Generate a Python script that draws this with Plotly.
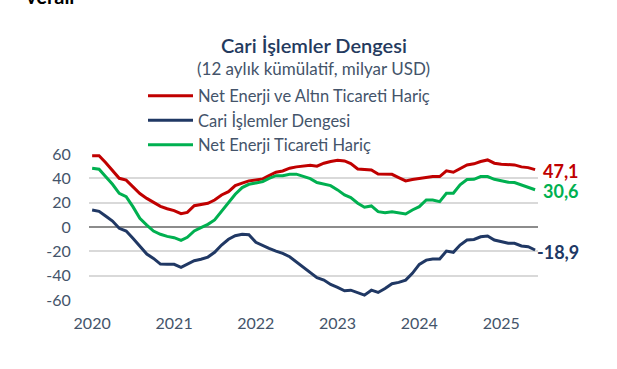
import plotly.graph_objects as go
import pandas as pd

# ---- data (monthly, Jan 2020 - Jun 2025, 12-month cumulative, billion USD) ----
months = pd.date_range("2020-01-01", periods=66, freq="MS")

net_enerji_altin_haric = [
    58.5, 58.5, 53.0, 46.5, 40.0, 38.5, 33.0, 27.5, 23.5, 20.5, 17.0, 15.0,
    13.5, 11.0, 12.0, 17.5, 18.7, 19.5, 22.2, 26.3, 29.0, 34.0, 36.0, 37.9,
    38.7, 39.5, 42.2, 45.0, 46.0, 48.3, 49.4, 50.4, 50.8, 50.0, 52.4, 53.8,
    54.9, 54.3, 52.1, 47.7, 47.2, 46.9, 43.6, 43.3, 43.3, 40.6, 37.9, 39.0,
    40.0, 40.9, 41.4, 41.4, 46.1, 45.0, 48.3, 51.0, 51.9, 53.8, 55.1, 52.4,
    51.6, 51.6, 51.0, 49.4, 48.8, 47.1,
]
cari_islemler = [
    14.0, 12.9, 9.0, 4.9, -1.1, -3.3, -9.3, -16.2, -22.2, -25.8, -30.5, -30.7,
    -30.7, -33.2, -30.7, -27.7, -26.5, -24.7, -20.8, -14.8, -10.1, -7.2, -6.0, -6.3,
    -12.6, -15.4, -17.6, -19.8, -21.7, -24.4, -28.5, -33.5, -37.5, -41.7, -43.6, -47.2,
    -49.6, -52.4, -51.9, -54.0, -56.0, -51.9, -53.8, -50.5, -46.6, -45.5, -43.6, -38.1,
    -30.7, -27.2, -26.3, -26.3, -19.8, -20.8, -14.8, -10.7, -10.2, -8.0, -7.4, -10.7,
    -12.1, -13.4, -13.4, -15.6, -16.2, -18.9,
]
net_enerji_haric = [
    48.3, 47.5, 41.4, 35.1, 27.7, 25.0, 16.7, 7.1, 1.6, -3.3, -6.0, -7.7,
    -8.8, -11.0, -8.5, -3.2, -0.5, 2.2, 5.8, 13.2, 20.3, 26.9, 32.4, 35.1,
    36.2, 37.3, 40.0, 42.2, 42.2, 43.4, 43.4, 41.4, 39.7, 36.5, 35.1, 34.0,
    30.5, 26.3, 24.1, 19.5, 16.2, 17.3, 12.6, 11.8, 12.6, 11.8, 10.7, 14.0,
    16.7, 22.2, 22.2, 20.8, 27.7, 27.7, 34.6, 39.0, 39.2, 41.4, 41.4, 39.2,
    37.9, 36.8, 36.5, 34.6, 32.7, 30.6,
]

series_names = ["Net Enerji ve Altın Ticareti Hariç", "Cari İşlemler Dengesi", "Net Enerji Ticareti Hariç"]
series_values = [net_enerji_altin_haric, cari_islemler, net_enerji_haric]
series_colors = ["#C00000", "#203864", "#00B050"]

year_ticks = ["2020-01-01", "2021-01-01", "2022-01-01", "2023-01-01", "2024-01-01", "2025-01-01"]
year_labels = ["2020", "2021", "2022", "2023", "2024", "2025"]
y_ticks = [-60, -40, -20, 0, 20, 40, 60]

title_text = "Cari İşlemler Dengesi"
subtitle_text = "(12 aylık kümülatif, milyar USD)"

FONT = "Lato, 'Noto Sans', sans-serif"
TXT = "#44546A"

fig = go.Figure()
for name, vals, col in zip(series_names, series_values, series_colors):
    fig.add_trace(go.Scatter(x=months, y=vals, name=name, mode="lines",
                             line=dict(color=col, width=3)))

# end-of-line value labels
for vals, col in zip(series_values, series_colors):
    fig.add_annotation(x=months[-1], y=vals[-1], xref="x", yref="y",
                       text=f"{vals[-1]:.1f}".replace(".", ","),
                       showarrow=False, xanchor="right", yanchor="middle",
                       xshift=46, yshift=-1.5,
                       font=dict(family=FONT, size=18, color=col, weight="bold"))

PB, PH = 301, 148  # plot bottom px, plot height px

def py(p):
    return (PB - p) / PH

fig.add_annotation(x=0.5, y=py(44.5), xref="paper", yref="paper", text=title_text,
                   showarrow=False, xanchor="center", yanchor="middle",
                   font=dict(family=FONT, size=20, color="#243A5E", weight=600))
fig.add_annotation(x=0.5, y=py(68), xref="paper", yref="paper", text=subtitle_text,
                   showarrow=False, xanchor="center", yanchor="middle",
                   font=dict(family=FONT, size=17, color=TXT))
fig.add_annotation(x=(24 - 89) / 449, y=py(10.5), xref="paper", yref="paper", text="verali",
                   showarrow=False, xanchor="left", yanchor="bottom",
                   font=dict(family=FONT, size=20, color="#000000", weight="bold"))

fig.update_layout(
    width=617, height=369,
    margin=dict(l=89, r=79, t=153, b=68, autoexpand=False),
    paper_bgcolor="white", plot_bgcolor="white",
    showlegend=True,
    legend=dict(xref="container", yref="container", x=143 / 617, y=1 - 78.5 / 369,
                xanchor="left", yanchor="top", bgcolor="rgba(0,0,0,0)",
                font=dict(family=FONT, size=16.5, color=TXT),
                itemwidth=45, tracegroupgap=0, traceorder="normal"),
    font=dict(family=FONT, color=TXT),
)
fig.update_xaxes(range=["2019-12-18", "2025-06-14"], tickvals=year_ticks, ticktext=year_labels,
                 showgrid=False, zeroline=False, showline=False,
                 ticks="outside", ticklen=8, tickcolor="rgba(0,0,0,0)",
                 tickfont=dict(family=FONT, size=16, color=TXT))
fig.update_yaxes(range=[-60.8, 60.8], tickvals=y_ticks, ticktext=[str(v) for v in y_ticks],
                 showgrid=True, gridcolor="#D9D9D9", gridwidth=1.5,
                 zeroline=True, zerolinecolor="#8C8C8C", zerolinewidth=1.5,
                 showline=False, ticks="outside", ticklen=14, tickcolor="rgba(0,0,0,0)",
                 tickfont=dict(family=FONT, size=16, color=TXT))

fig.write_html("out.html", config={"displayModeBar": False},
               post_script="document.body.style.margin='0';document.body.style.overflow='hidden';")
